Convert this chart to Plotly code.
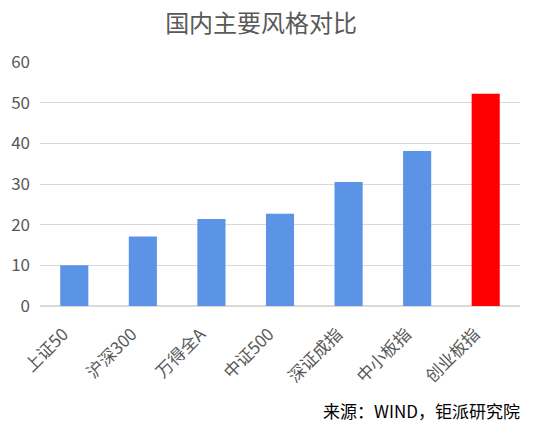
import plotly.graph_objects as go

categories = ["上证50", "沪深300", "万得全A", "中证500", "深证成指", "中小板指", "创业板指"]
values = [10.0, 17.1, 21.4, 22.7, 30.5, 38.1, 52.2]
bar_colors = ["#5b93e6"] * 6 + ["#ff0000"]
y_ticks = [0, 10, 20, 30, 40, 50, 60]

font_name = "Noto Sans CJK SC"

fig = go.Figure()
fig.add_trace(go.Bar(
    x=categories,
    y=values,
    marker=dict(color=bar_colors, line=dict(width=0)),
    width=0.41,
))

fig.update_layout(
    width=534,
    height=429,
    margin=dict(l=40, r=14, t=62, b=123),
    paper_bgcolor="white",
    plot_bgcolor="white",
    showlegend=False,
    font=dict(family=font_name, color="#595959", size=16),
    title=dict(
        text="国内主要风格对比",
        x=0.489,
        xanchor="center",
        y=0.944,
        yanchor="middle",
        font=dict(family=font_name, size=24, color="#595959"),
    ),
    xaxis=dict(
        tickangle=-45,
        showgrid=False,
        showline=False,
        ticks="",
        ticklabelshift=-11,
        ticklabelstandoff=14,
        tickfont=dict(size=17, color="#595959"),
    ),
    yaxis=dict(
        range=[0, 60],
        tickvals=y_ticks,
        showgrid=True,
        gridcolor="#d9d9d9",
        gridwidth=1,
        zeroline=True,
        zerolinecolor="#d9d9d9",
        showline=False,
        ticks="",
        ticklabelstandoff=9,
        tickfont=dict(size=17, color="#595959"),
    ),
)

fig.add_annotation(
    text="来源：WIND，钜派研究院",
    xref="paper", yref="paper",
    x=1.005, y=-0.43,
    xanchor="right", yanchor="middle",
    showarrow=False,
    font=dict(family=font_name, size=17, color="#000000"),
)

# 去掉页面默认边距和工具栏
fig.write_html("out.html", config={"displayModeBar": False},
               post_script="document.body.style.margin='0';")
